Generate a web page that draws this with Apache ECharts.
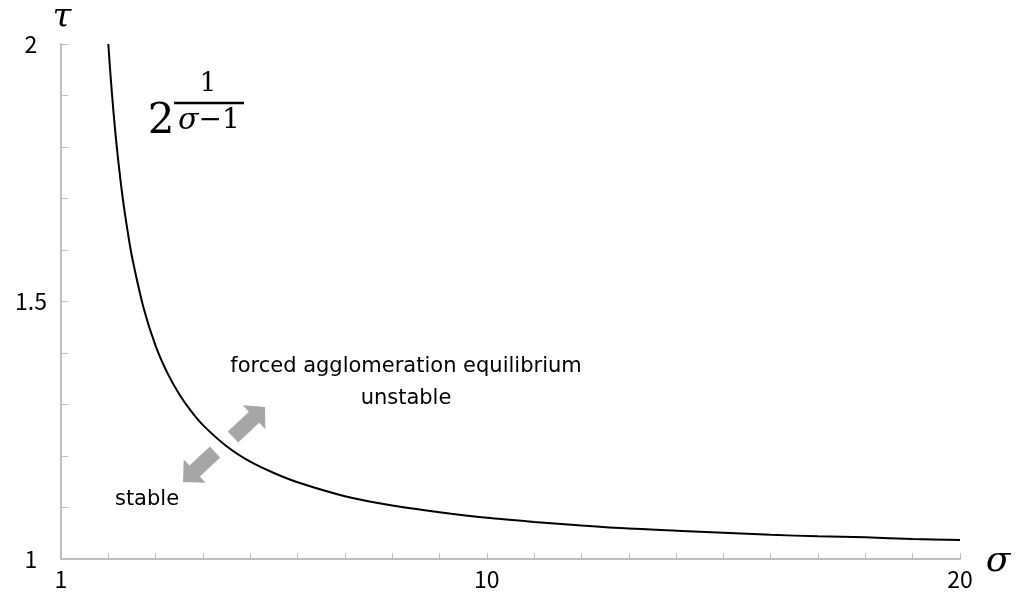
<!DOCTYPE html>
<html>
<head>
<meta charset="utf-8">
<script src="https://cdn.jsdelivr.net/npm/echarts@6/dist/echarts.min.js"></script>
<style>
  html, body { margin: 0; padding: 0; background: #fff; }
  #main { width: 1016px; height: 597px; }
</style>
</head>
<body>
<div id="main"></div>
<script>
// σ の値（曲線上の読み取り点）
const sigma = [2, 2.05, 2.1, 2.15, 2.2, 2.3, 2.4, 2.5, 2.75, 3, 3.25, 3.5, 3.75, 4, 4.5, 5, 5.5, 6, 7, 8, 9, 10, 11, 12, 13, 14, 15, 16, 17, 18, 19, 20]
// τ の値
const tau = [2.000, 1.935, 1.878, 1.827, 1.782, 1.704, 1.641, 1.587, 1.486, 1.414, 1.361, 1.320, 1.287, 1.260, 1.219, 1.189, 1.167, 1.149, 1.122, 1.104, 1.091, 1.080, 1.072, 1.065, 1.059, 1.055, 1.051, 1.047, 1.044, 1.042, 1.039, 1.037]
// 目盛りラベル
const xLabels = [1, 10, 20]
const yLabels = [1, 1.5, 2]

const gray = '#bfbfbf'
const arrowGray = '#a6a6a6'
const jpFont = 'Noto Sans CJK JP'
const textFont = '"DejaVu Sans", "Noto Sans", sans-serif'
const mathFont = '"DejaVu Serif", "Liberation Serif", serif'

// 太い矢印の多角形
function arrowPoints(tail, tip, shaftW, headW, headL) {
  const dx = tip[0] - tail[0], dy = tip[1] - tail[1]
  const len = Math.sqrt(dx * dx + dy * dy)
  const ux = dx / len, uy = dy / len
  const nx = -uy, ny = ux
  const bx = tip[0] - ux * headL, by = tip[1] - uy * headL
  return [
    [tail[0] + nx * shaftW / 2, tail[1] + ny * shaftW / 2],
    [bx + nx * shaftW / 2, by + ny * shaftW / 2],
    [bx + nx * headW / 2, by + ny * headW / 2],
    tip,
    [bx - nx * headW / 2, by - ny * headW / 2],
    [bx - nx * shaftW / 2, by - ny * shaftW / 2],
    [tail[0] - nx * shaftW / 2, tail[1] - ny * shaftW / 2]
  ]
}

const dom = document.querySelector('#main')
const myChart = echarts.init(dom)

const option = {
  animation: false,
  grid: {
    left: 61,
    right: 56,
    top: 44,
    bottom: 38
  },
  xAxis: {
    type: 'value',
    min: 1,
    max: 20,
    interval: 1,
    axisLine: { lineStyle: { color: gray, width: 2 } },
    axisTick: { inside: true, length: 6, lineStyle: { color: gray, width: 1 } },
    splitLine: { show: false },
    axisLabel: {
      color: '#000',
      fontSize: 23,
      fontFamily: jpFont,
      margin: 9,
      formatter: v => xLabels.includes(v) ? String(v) : ''
    }
  },
  yAxis: {
    type: 'value',
    min: 1,
    max: 2,
    interval: 0.1,
    axisLine: { show: true, lineStyle: { color: gray, width: 2 } },
    axisTick: { show: true, inside: true, length: 7, lineStyle: { color: gray, width: 1 } },
    splitLine: { show: false },
    axisLabel: {
      color: '#000',
      fontSize: 23,
      fontFamily: jpFont,
      align: 'center',
      margin: 30,
      formatter: v => {
        const r = Math.round(v * 10) / 10
        return yLabels.includes(r) ? String(r) : ''
      }
    }
  },
  series: [
    {
      type: 'line',
      data: sigma.map((s, i) => [s, tau[i]]),
      smooth: 0.3,
      showSymbol: false,
      lineStyle: { color: '#000', width: 2 }
    }
  ],
  graphic: [
    // 軸名
    { type: 'text', x: 62, y: 18, style: { text: 'τ', font: 'italic 34px ' + mathFont, fill: '#000', align: 'center', verticalAlign: 'middle' } },
    { type: 'text', x: 998, y: 562, style: { text: 'σ', font: 'italic 36px ' + mathFont, fill: '#000', align: 'center', verticalAlign: 'middle' } },
    // 数式 2^(1/(σ-1))
    { type: 'text', x: 161, y: 122, style: { text: '2', font: '42px ' + mathFont, fill: '#000', align: 'center', verticalAlign: 'middle' } },
    { type: 'text', x: 208, y: 84, style: { text: '1', font: '26px ' + mathFont, fill: '#000', align: 'center', verticalAlign: 'middle' } },
    { type: 'line', shape: { x1: 174, y1: 103, x2: 244, y2: 103 }, style: { stroke: '#000', lineWidth: 2.5 } },
    {
      type: 'text', x: 209, y: 121,
      style: {
        text: '{s|σ}{n|−1}',
        fill: '#000', align: 'center', verticalAlign: 'middle',
        rich: {
          s: { font: 'italic 30px ' + mathFont },
          n: { font: '28px ' + mathFont }
        }
      }
    },
    // 注記
    { type: 'text', x: 406, y: 367, style: { text: 'forced agglomeration equilibrium', font: '21px ' + textFont, fill: '#000', align: 'center', verticalAlign: 'middle' } },
    { type: 'text', x: 406, y: 399, style: { text: 'unstable', font: '21px ' + textFont, fill: '#000', align: 'center', verticalAlign: 'middle' } },
    { type: 'text', x: 147, y: 500, style: { text: 'stable', font: '21px ' + textFont, fill: '#000', align: 'center', verticalAlign: 'middle' } },
    // 矢印
    { type: 'polygon', shape: { points: arrowPoints([233, 437], [265, 407], 15, 33, 15) }, style: { fill: arrowGray } },
    { type: 'polygon', shape: { points: arrowPoints([215, 452], [183, 482], 15, 32, 16) }, style: { fill: arrowGray } }
  ]
}

myChart.setOption(option)
</script>
</body>
</html>
